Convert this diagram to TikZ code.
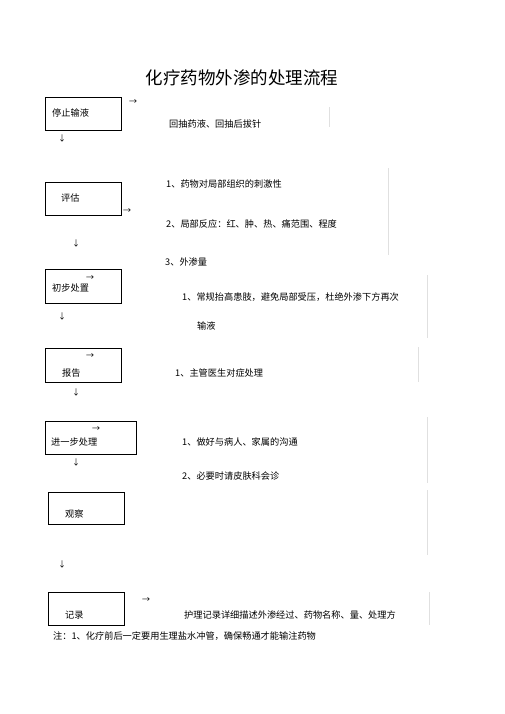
\documentclass[tikz,border=0pt]{standalone}
\usepackage{fontspec}
\setmainfont{Noto Sans CJK SC}
\usepackage{tikz}
\usetikzlibrary{positioning}

\begin{document}
\begin{tikzpicture}[x=1pt,y=-1pt,
        stepbox/.style={draw=black,line width=0.8pt,minimum width=76pt,minimum height=33pt,inner sep=0pt,anchor=north west},
        lbl/.style={anchor=west,inner sep=0pt,font=\fontsize{9.2}{11}\selectfont},
        arr/.style={inner sep=0pt,font=\fontsize{8}{9}\selectfont},
        faint/.style={draw=black!12,line width=0.6pt}]
        \useasboundingbox (0,0) rectangle (505,714);

        \node[inner sep=0pt,font=\fontsize{17.5}{20}\selectfont] (title) at (242,78) {化疗药物外渗的处理流程};

        % boxes
        \node[stepbox] (stop)    at (45,97)  {};
        \node[stepbox] (assess)  at (45,182) {};
        \node[stepbox,minimum height=34pt] (first) at (45,269) {};
        \node[stepbox,minimum height=34pt] (report) at (45,348) {};
        \node[stepbox,minimum width=91pt] (further) at (45,421) {};
        \node[stepbox,minimum height=32pt] (watch) at (48,492) {};
        \node[stepbox] (record)  at (48,592) {};

        % box labels
        \node[lbl] (stopt)    at (52,113) {停止输液};
        \node[lbl] (assesst)  at (61,198) {评估};
        \node[lbl] (firstt)   at (52,288) {初步处置};
        \node[lbl] (reportt)  at (62,373) {报告};
        \node[lbl] (furthert) at (51,442) {进一步处理};
        \node[lbl] (watcht)   at (65,514) {观察};
        \node[lbl] (recordt)  at (65,615) {记录};

        % notes
        \node[lbl] (n1)  at (169,124) {回抽药液、回抽后拔针};
        \node[lbl] (n21) at (166,184) {1、药物对局部组织的刺激性};
        \node[lbl] (n22) at (166,224) {2、局部反应：红、肿、热、痛范围、程度};
        \node[lbl] (n23) at (165,262) {3、外渗量};
        \node[lbl] (n31) at (182,297) {1、常规抬高患肢，避免局部受压，杜绝外渗下方再次};
        \node[lbl] (n32) at (197,326) {输液};
        \node[lbl] (n41) at (175,373) {1、主管医生对症处理};
        \node[lbl] (n51) at (182,442) {1、做好与病人、家属的沟通};
        \node[lbl] (n52) at (182,476) {2、必要时请皮肤科会诊};
        \node[lbl] (n7)  at (184,615) {护理记录详细描述外渗经过、药物名称、量、处理方};
        \node[lbl] (foot) at (53,636) {注：1、化疗前后一定要用生理盐水冲管，确保畅通才能输注药物};

        % stray arrows
        \node[arr] (r1) at (133,102) {→};
        \node[arr] (r2) at (127,211) {→};
        \node[arr] (r3) at (90,278)  {→};
        \node[arr] (r4) at (90,356)  {→};
        \node[arr] (r5) at (96,429)  {→};
        \node[arr] (r7) at (146,600) {→};
        \node[arr] (d1) at (62,138)  {↓};
        \node[arr] (d2) at (76,243)  {↓};
        \node[arr] (d3) at (62,316)  {↓};
        \node[arr] (d4) at (76,392)  {↓};
        \node[arr] (d5) at (76,462)  {↓};
        \node[arr] (d6) at (62,564)  {↓};

        % faint frame edges
        \draw[faint] (329,107) -- (329,127);
        \draw[faint] (388,168) -- (388,255);
        \draw[faint] (427,275) -- (427,338);
        \draw[faint] (418,347) -- (418,382);
        \draw[faint] (427,417) -- (427,483);
        \draw[faint] (427,490) -- (427,555);
        \draw[faint] (429,592) -- (429,625);
    \end{tikzpicture}
\end{document}
